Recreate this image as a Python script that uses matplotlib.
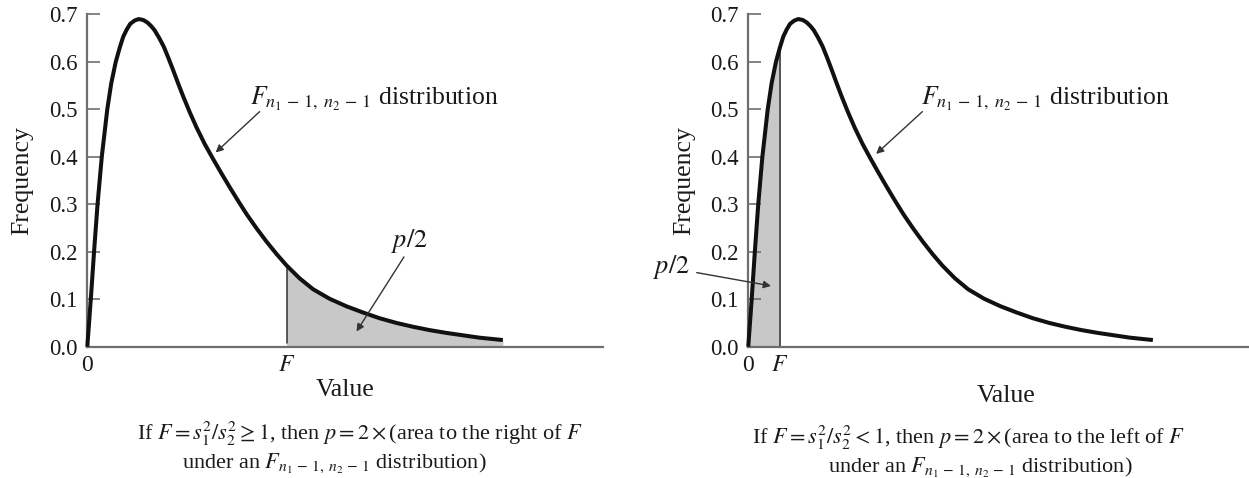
import matplotlib
matplotlib.use("Agg")
import matplotlib.pyplot as plt
from matplotlib.patches import Rectangle, Polygon
import numpy as np

plt.rcParams['font.family'] = ['Liberation Serif', 'DejaVu Serif']
plt.rcParams['mathtext.fontset'] = 'stix'

# curve (same shape in both panels)
curve_x = [0, 0.035, 0.07, 0.135, 0.205, 0.29, 0.40, 0.48, 0.57, 0.65, 0.72, 0.79, 0.86,
           0.95, 1.03, 1.12, 1.20, 1.28, 1.35, 1.44, 1.53, 1.62, 1.72, 1.82, 1.92, 2.05,
           2.19, 2.35, 2.52, 2.68, 2.85, 3.02, 3.19, 3.39, 3.59, 3.79, 3.99, 4.25, 4.52,
           4.85, 5.19, 5.52, 5.85, 6.19, 6.52, 6.85, 7.19, 7.52, 7.85, 8.32]
curve_y = [0, 0.05, 0.10, 0.20, 0.30, 0.40, 0.50, 0.555, 0.600, 0.630, 0.653, 0.668, 0.680,
           0.687, 0.690, 0.688, 0.683, 0.675, 0.666, 0.650, 0.632, 0.609, 0.582, 0.554, 0.527,
           0.494, 0.461, 0.427, 0.395, 0.366, 0.336, 0.307, 0.279, 0.249, 0.221, 0.195, 0.171,
           0.144, 0.121, 0.101, 0.085, 0.072, 0.060, 0.050, 0.042, 0.035, 0.029, 0.024, 0.019,
           0.014]

f_left = 3.99
f_right = 0.652
y_ticks = [0.0, 0.1, 0.2, 0.3, 0.4, 0.5, 0.6, 0.7]

dist_label = r'$F_{n_1\,-\,1,\;n_2\,-\,1}$ distribution'
caption_left = [r'If $F = s_1^2/s_2^2 \geq 1$, then $p = 2 \times$(area to the right of $F$',
                r'under an $F_{n_1\,-\,1,\;n_2\,-\,1}$ distribution)']
caption_right = [r'If $F = s_1^2/s_2^2 < 1$, then $p = 2 \times$(area to the left of $F$',
                 r'under an $F_{n_1\,-\,1,\;n_2\,-\,1}$ distribution)']

fig = plt.figure(figsize=(12.49, 4.78), dpi=100)
ax1 = fig.add_axes([0.0699, 0.2747, 0.4127, 0.6954])
ax2 = fig.add_axes([0.5991, 0.2747, 0.4127, 0.6954])

spine_col = '#6e6e6e'
text_col = '#1a1a1a'
tick_fs = 16.5
label_fs = 18.5
cap_fs = 16


def setup(ax, xmax, fval):
    ax.set_xlim(0, xmax)
    ax.set_ylim(0, 0.7)
    for s in ['top', 'right']:
        ax.spines[s].set_visible(False)
    for s in ['left', 'bottom']:
        ax.spines[s].set_color(spine_col)
        ax.spines[s].set_linewidth(1.6)
    ax.set_yticks(y_ticks)
    ax.set_yticklabels([f'{t:.1f}' for t in y_ticks])
    ax.tick_params(axis='y', direction='in', length=9.5, width=1.2, color=spine_col,
                   labelsize=tick_fs, labelcolor=text_col, pad=7)
    ax.set_xticks([0, fval])
    ax.set_xticklabels(['0', '$F$'])
    ax.tick_params(axis='x', length=0, labelsize=17, labelcolor=text_col, pad=6)
    ax.set_ylabel('Frequency', fontsize=label_fs, color=text_col, va='center')
    ax.set_xlabel('Value', fontsize=label_fs, color=text_col, va='center')


def draw_curve(ax, fval, right_side):
    x = np.array(curve_x)
    y = np.array(curve_y)
    fill = ax.fill_between(x, 0, y, color='#c8c8c8', lw=0, zorder=1)
    if right_side:
        rect = Rectangle((fval, 0), 100, 1, transform=ax.transData)
    else:
        rect = Rectangle((-100, 0), 100 + fval, 1, transform=ax.transData)
    fill.set_clip_path(rect)
    area = Polygon(np.column_stack([x, y]), closed=True, transform=ax.transData)
    vl = ax.axvline(fval, color='#333333', lw=1.1, zorder=2)
    vl.set_clip_path(area)
    ax.plot(x, y, color='#111111', lw=2.9, solid_capstyle='butt', solid_joinstyle='round',
            zorder=3, clip_on=False)


arrow_kw = dict(arrowstyle='-|>', color='#333333', lw=1.0, mutation_scale=11,
                shrinkA=0, shrinkB=0)

# left panel
setup(ax1, 10.32, f_left)
draw_curve(ax1, f_left, True)
ax1.xaxis.set_label_coords(0.5, -0.130)
ax1.yaxis.set_label_coords(-0.127, 0.5)
ax1.text(3.25, 0.523, dist_label, fontsize=label_fs, color=text_col, va='center', ha='left')
ax1.annotate('', xy=(2.57, 0.409), xytext=(3.45, 0.495), arrowprops=arrow_kw)
ax1.text(6.46, 0.222, '$p/2$', fontsize=19, color=text_col, ha='center', va='center')
ax1.annotate('', xy=(5.39, 0.032), xytext=(6.34, 0.189), arrowprops=arrow_kw)

# right panel
setup(ax2, 10.6, f_right)
draw_curve(ax2, f_right, False)
ax2.xaxis.set_label_coords(0.5, -0.148)
ax2.yaxis.set_label_coords(-0.125, 0.5)
ax2.text(3.55, 0.523, dist_label, fontsize=label_fs, color=text_col, va='center', ha='left')
ax2.annotate('', xy=(2.63, 0.406), xytext=(3.58, 0.495), arrowprops=arrow_kw)
ax2.text(-1.57, 0.168, '$p/2$', fontsize=19, color=text_col, ha='center', va='center',
         clip_on=False)
ax2.annotate('', xy=(0.467, 0.128), xytext=(-1.06, 0.156), arrowprops=arrow_kw,
             annotation_clip=False)

# captions
fig.text(137 / 1249, 1 - 434 / 478, caption_left[0], fontsize=cap_fs, color=text_col,
         ha='left', va='center')
fig.text(182 / 1249, 1 - 463 / 478, caption_left[1], fontsize=cap_fs, color=text_col,
         ha='left', va='center')
fig.text(752 / 1249, 1 - 438 / 478, caption_right[0], fontsize=cap_fs, color=text_col,
         ha='left', va='center')
fig.text(828 / 1249, 1 - 467 / 478, caption_right[1], fontsize=cap_fs, color=text_col,
         ha='left', va='center')

fig.savefig('out.png', dpi=100)
